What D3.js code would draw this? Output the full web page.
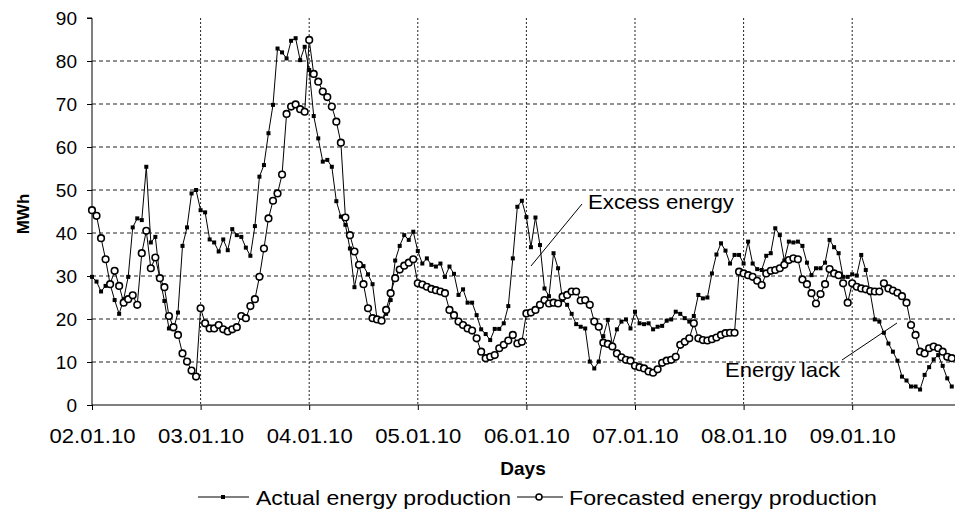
<!DOCTYPE html>
<html>
<head>
<meta charset="utf-8">
<script src="https://cdn.jsdelivr.net/npm/d3@7"></script>
<style>
  html, body { margin: 0; padding: 0; background: #fff; }
  svg { display: block; }
  text { font-family: "Liberation Sans", Arial, sans-serif; fill: #000; }
</style>
</head>
<body>
<svg id="chart" width="955" height="513"></svg>
<script>
// ---- data (hourly values, MWh) ----
const dayLabels = ["02.01.10","03.01.10","04.01.10","05.01.10","06.01.10","07.01.10","08.01.10","09.01.10"];
const yTicks = [0,10,20,30,40,50,60,70,80,90];

const actual = [
  // 02.01
  29.8,28.7,26.4,27.7,28.1,24.4,21.2,24.6,29.8,41.3,43.4,43.0,55.4,37.8,39.1,29.5,24.2,17.8,17.6,21.5,37.0,41.3,49.2,50.0,
  // 03.01
  45.3,44.8,38.5,37.8,35.7,38.5,36.0,40.9,39.5,39.1,36.6,34.7,41.6,53.1,55.8,63.2,69.8,82.9,82.0,80.6,84.7,85.3,80.2,83.3,
  // 04.01
  77.9,67.2,62.0,56.6,57.0,55.4,47.4,43.8,41.9,36.4,27.4,32.8,32.3,30.4,28.1,19.9,19.6,21.2,24.4,33.6,37.0,39.5,38.4,40.3,
  // 05.01
  35.8,32.9,34.1,32.6,32.2,32.9,29.8,32.2,30.5,25.6,26.9,23.8,23.8,20.9,17.6,16.5,15.1,17.7,17.7,19.0,23.0,34.1,46.1,47.5,
  // 06.01
  43.7,36.7,43.6,37.2,27.1,25.3,35.3,31.8,24.4,23.3,21.2,18.8,18.2,17.8,10.1,8.5,10.1,16.0,19.8,14.0,17.6,19.4,19.9,17.8,
  // 07.01
  21.7,19.0,18.8,19.0,17.6,18.2,18.4,19.6,19.9,21.7,21.2,20.2,19.4,20.7,25.6,24.8,25.0,30.6,35.0,37.6,35.9,32.9,34.9,34.9,
  // 08.01
  32.9,38.0,32.9,31.6,31.4,34.7,35.3,41.1,39.5,33.6,38.0,37.8,38.0,37.0,33.1,30.2,31.8,31.8,33.1,38.4,36.7,35.3,29.8,29.8,
  // 09.01
  30.4,30.1,34.9,31.4,26.0,19.9,19.4,16.8,14.3,12.4,10.3,6.6,5.7,4.3,4.3,3.6,7.0,8.8,10.6,11.6,9.1,6.2,4.3
];

const forecast = [
  // 02.01
  45.3,44.0,38.8,33.9,28.1,31.2,27.7,23.8,24.6,25.5,23.3,35.3,40.5,31.8,34.3,29.5,27.4,20.7,18.1,16.3,12.0,10.1,8.0,6.6,
  // 03.01
  22.5,19.0,17.8,17.8,18.6,17.6,17.1,17.6,18.1,20.7,20.2,23.0,24.6,29.8,36.4,43.4,47.5,49.2,53.6,67.7,69.4,69.9,68.8,68.2,
  // 04.01
  84.9,77.0,75.2,72.9,71.6,69.4,65.9,61.0,43.6,39.5,35.7,32.6,28.1,22.5,20.2,19.9,19.6,22.1,26.0,29.5,31.5,32.4,33.1,33.9,
  // 05.01
  28.3,28.0,27.5,27.0,26.7,26.4,26.0,22.1,20.9,19.4,18.6,17.8,17.3,15.5,12.4,10.9,11.2,11.6,13.2,14.0,15.0,16.3,14.3,14.7,
  // 06.01
  21.3,21.5,22.1,23.3,24.4,23.6,23.8,23.6,25.2,25.6,26.4,26.4,24.3,24.4,23.3,19.4,18.2,14.5,14.2,13.6,12.0,11.1,10.5,10.3,
  // 07.01
  9.1,8.8,8.5,7.8,7.5,8.3,9.8,10.3,10.5,11.2,14.0,14.7,15.5,19.0,15.5,15.1,15.0,15.3,15.7,16.3,16.7,16.8,16.8,31.0,
  // 08.01
  30.6,30.2,29.8,28.9,27.9,30.6,31.2,31.4,31.8,32.6,33.7,34.1,33.9,29.2,28.1,26.0,23.6,25.8,28.1,31.6,30.6,30.2,28.3,23.8,
  // 09.01
  28.3,27.5,27.1,26.9,26.5,26.4,26.4,28.3,27.1,26.6,26.1,25.3,23.8,18.6,16.3,12.4,12.0,13.2,13.6,13.2,12.4,11.2,10.9
];

const seriesNames = ["Actual energy production", "Forecasted energy production"];

// ---- chart ----
const svg = d3.select("#chart");
const W = 955, H = 513;
const mLeft = 92, mTop = 18, mBottom = 405;
const daySpan = 108.6;
const mRight = mLeft + daySpan * 8;

const x = d3.scaleLinear().domain([0, 192]).range([mLeft, mRight]);
const y = d3.scaleLinear().domain([0, 90]).range([mBottom, mTop]);

svg.append("defs").append("clipPath").attr("id", "clip")
  .append("rect").attr("x", 0).attr("y", 0).attr("width", W).attr("height", H);

// horizontal dashed gridlines
svg.append("g").selectAll("line").data(yTicks.filter(v => v > 0 && v < 90)).join("line")
  .attr("x1", mLeft).attr("x2", W)
  .attr("y1", d => y(d)).attr("y2", d => y(d))
  .attr("stroke", "#222").attr("stroke-width", 1).attr("stroke-dasharray", "4,3");

// vertical dotted gridlines
svg.append("g").selectAll("line").data(d3.range(1, 8)).join("line")
  .attr("x1", d => x(d * 24)).attr("x2", d => x(d * 24))
  .attr("y1", mTop).attr("y2", mBottom)
  .attr("stroke", "#222").attr("stroke-width", 1).attr("stroke-dasharray", "2,2");

// y axis
const yAxis = d3.axisLeft(y).tickValues(yTicks).tickSize(5).tickPadding(10);
const gy = svg.append("g").attr("transform", `translate(${mLeft},0)`).call(yAxis);
gy.select(".domain").attr("stroke", "#000").attr("d", `M-5,${mTop}H0V${mBottom}`);
gy.selectAll(".tick line").attr("stroke", "#000");
gy.selectAll("text").style("font-family", '"Liberation Sans", Arial, sans-serif')
  .style("font-size", "19px").attr("fill", "#000");

// x axis
const xAxis = d3.axisBottom(x).tickValues(d3.range(0, 8).map(d => d * 24))
  .tickFormat((d, i) => dayLabels[i]).tickSize(5).tickPadding(22);
const gx = svg.append("g").attr("transform", `translate(0,${mBottom})`).call(xAxis);
gx.select(".domain").attr("stroke", "#000").attr("d", `M${mLeft},0H${W}`);
gx.selectAll(".tick line").attr("stroke", "#000");
gx.selectAll("text").style("font-family", '"Liberation Sans", Arial, sans-serif')
  .style("font-size", "21px").attr("fill", "#000").attr("dy", "0.5em")
  .attr("textLength", 86).attr("lengthAdjust", "spacingAndGlyphs");

// axis titles
svg.append("text").attr("x", 523).attr("y", 475).attr("text-anchor", "middle")
  .style("font-size", "19px").style("font-weight", "bold").text("Days");
svg.append("text").attr("transform", "translate(29,214) rotate(-90)").attr("text-anchor", "middle")
  .style("font-size", "17px").style("font-weight", "bold").text("MWh");

// series
const line = d3.line().x((d, i) => x(i)).y(d => y(d));
const plot = svg.append("g").attr("clip-path", "url(#clip)");

plot.append("path").datum(actual).attr("d", line)
  .attr("fill", "none").attr("stroke", "#000").attr("stroke-width", 1);
plot.append("g").selectAll("rect").data(actual).join("rect")
  .attr("x", (d, i) => x(i) - 2).attr("y", d => y(d) - 2)
  .attr("width", 4).attr("height", 4).attr("fill", "#000");

plot.append("path").datum(forecast).attr("d", line)
  .attr("fill", "none").attr("stroke", "#000").attr("stroke-width", 1);
plot.append("g").selectAll("circle").data(forecast).join("circle")
  .attr("cx", (d, i) => x(i)).attr("cy", d => y(d)).attr("r", 3.3)
  .attr("fill", "#fff").attr("stroke", "#000").attr("stroke-width", 1.6);

// annotations
svg.append("line").attr("x1", 531).attr("y1", 266).attr("x2", 582).attr("y2", 204)
  .attr("stroke", "#000").attr("stroke-width", 1);
svg.append("text").attr("x", 588).attr("y", 209).style("font-size", "21px")
  .attr("textLength", 146).attr("lengthAdjust", "spacingAndGlyphs").text("Excess energy");
svg.append("line").attr("x1", 842).attr("y1", 360).attr("x2", 897).attr("y2", 323)
  .attr("stroke", "#000").attr("stroke-width", 1);
svg.append("text").attr("x", 725).attr("y", 377)
  .style("font-size", "21px")
  .attr("textLength", 115).attr("lengthAdjust", "spacingAndGlyphs").text("Energy lack");

// legend
const lg = svg.append("g");
lg.append("line").attr("x1", 198).attr("x2", 249).attr("y1", 497).attr("y2", 497).attr("stroke", "#000");
lg.append("rect").attr("x", 221).attr("y", 495).attr("width", 4).attr("height", 4).attr("fill", "#000");
lg.append("text").attr("x", 256).attr("y", 505).style("font-size", "21px")
  .attr("textLength", 255).attr("lengthAdjust", "spacingAndGlyphs").text(seriesNames[0]);
lg.append("line").attr("x1", 517).attr("x2", 563).attr("y1", 497).attr("y2", 497).attr("stroke", "#000");
lg.append("circle").attr("cx", 539).attr("cy", 497).attr("r", 3).attr("fill", "#fff")
  .attr("stroke", "#000").attr("stroke-width", 1.5);
lg.append("text").attr("x", 569).attr("y", 505).style("font-size", "21px")
  .attr("textLength", 308).attr("lengthAdjust", "spacingAndGlyphs").text(seriesNames[1]);
</script>
</body>
</html>
